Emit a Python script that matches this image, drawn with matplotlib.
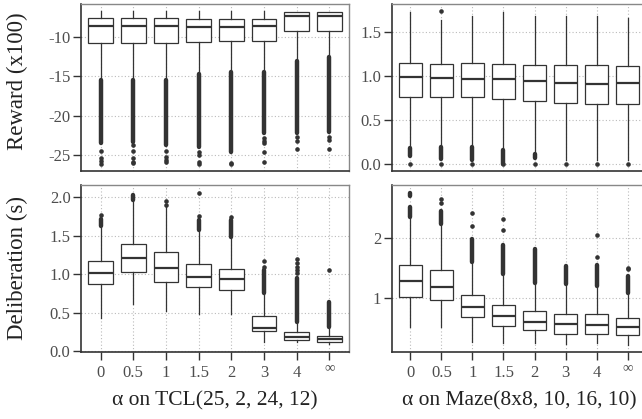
import matplotlib
matplotlib.use('Agg')
import matplotlib.pyplot as plt

plt.rcParams['font.family'] = ['Liberation Serif', 'DejaVu Serif']
plt.rcParams['axes.unicode_minus'] = False

alphas = ['0', '0.5', '1', '1.5', '2', '3', '4', '∞']

# TCL(25, 2, 24, 12) reward (x100)
tcl_rew_q1 = [-10.76, -10.76, -10.76, -10.63, -10.5, -10.5, -9.28, -9.19]
tcl_rew_med = [-8.65, -8.65, -8.65, -8.77, -8.77, -8.56, -7.38, -7.38]
tcl_rew_q3 = [-7.54, -7.54, -7.54, -7.67, -7.67, -7.67, -6.78, -6.78]
tcl_rew_lo = [-15.3, -15.3, -15.3, -14.6, -14.4, -14.4, -12.9, -12.5]
tcl_rew_hi = [-6.75, -6.75, -6.75, -6.75, -6.75, -6.75, -6.77, -6.77]
tcl_rew_runs = [[(-15.4, -23.5)], [(-15.4, -23.3)], [(-15.4, -23.7)], [(-14.7, -23.9)],
                [(-14.5, -24.6)], [(-14.5, -22.2)], [(-13.0, -22.2)], [(-12.6, -22.0)]]
tcl_rew_dots = [[-24.4, -25.3, -25.7, -26.1], [-23.7, -24.4, -25.3, -25.8, -26.0],
                [-24.4, -25.2, -25.6, -25.9], [-24.6, -25.0, -25.8, -26.1], [-25.95, -26.1],
                [-22.8, -23.2, -23.5, -24.6, -25.9], [-22.7, -23.2, -24.2], [-22.7, -23.1, -24.2]]

# Maze(8x8, 10, 16, 10) reward (x100)
maze_rew_q1 = [0.761, 0.758, 0.761, 0.739, 0.716, 0.69, 0.682, 0.682]
maze_rew_med = [0.982, 0.970, 0.962, 0.959, 0.94, 0.92, 0.909, 0.92]
maze_rew_q3 = [1.148, 1.136, 1.14, 1.136, 1.125, 1.118, 1.118, 1.11]
maze_rew_lo = [0.20, 0.21, 0.21, 0.17, 0.12, 0.04, 0.04, 0.04]
maze_rew_hi = [1.72, 1.63, 1.68, 1.72, 1.68, 1.68, 1.68, 1.66]
maze_rew_runs = [[(0.08, 0.18)], [(0.05, 0.19)], [(0.04, 0.19)], [(0.0, 0.15)],
                 [(0.06, 0.11)], [], [], []]
maze_rew_dots = [[0.0], [0.0, 1.73], [0.0], [0.0], [0.0], [0.0], [0.0], [0.0]]

# TCL deliberation (s)
tcl_del_q1 = [0.87, 1.026, 0.896, 0.83, 0.80, 0.263, 0.151, 0.125]
tcl_del_med = [1.013, 1.21, 1.086, 0.969, 0.939, 0.298, 0.182, 0.16]
tcl_del_q3 = [1.173, 1.40, 1.285, 1.134, 1.069, 0.458, 0.247, 0.199]
tcl_del_lo = [0.43, 0.61, 0.52, 0.49, 0.48, 0.117, 0.125, 0.09]
tcl_del_hi = [1.60, 1.95, 1.88, 1.575, 1.47, 0.753, 0.37, 0.30]
tcl_del_runs = [[(1.63, 1.72)], [(1.97, 2.03)], [], [(1.58, 1.70)], [(1.48, 1.70)],
                [(0.76, 1.05)], [(0.38, 0.95)], [(0.31, 0.64)]]
tcl_del_dots = [[1.77], [], [1.90, 1.95], [1.76, 2.06], [1.74], [1.10, 1.17],
                [1.02, 1.06, 1.10, 1.15, 1.20], [1.05]]

# Maze deliberation (s)
maze_del_q1 = [1.017, 0.967, 0.677, 0.538, 0.467, 0.40, 0.40, 0.383]
maze_del_med = [1.277, 1.193, 0.844, 0.694, 0.60, 0.567, 0.555, 0.517]
maze_del_q3 = [1.55, 1.477, 1.05, 0.883, 0.777, 0.738, 0.727, 0.667]
maze_del_lo = [0.51, 0.51, 0.27, 0.25, 0.25, 0.233, 0.25, 0.22]
maze_del_hi = [2.33, 2.22, 1.58, 1.39, 1.24, 1.233, 1.205, 1.067]
maze_del_runs = [[(2.35, 2.52), (2.70, 2.76)], [(2.23, 2.45)], [(1.60, 1.98)], [(1.40, 1.88)],
                 [(1.25, 1.82)], [(1.24, 1.53)], [(1.21, 1.55)], [(1.08, 1.37)]]
maze_del_dots = [[], [2.58, 2.66], [2.21, 2.42], [2.14, 2.32], [], [], [1.68, 2.05], [1.48, 1.50]]

DARK = '#333333'
TXT = '#4d4d4d'


def draw_panel(ax, q1, med, q3, lo, hi, runs, dots, ylim, yticks, ylabels, bottom):
    pos = list(range(len(alphas)))
    stats = []
    for i in pos:
        stats.append({'med': med[i], 'q1': q1[i], 'q3': q3[i],
                      'whislo': lo[i], 'whishi': hi[i], 'fliers': []})
    ax.bxp(stats, positions=pos, widths=0.75, showcaps=False, patch_artist=True,
           boxprops=dict(facecolor='white', edgecolor=DARK, linewidth=0.9),
           whiskerprops=dict(color=DARK, linewidth=0.9),
           medianprops=dict(color=DARK, linewidth=1.6), zorder=3)
    for i in pos:
        for a, b in runs[i]:
            ax.vlines(i, a, b, color=DARK, linewidth=3.2, capstyle='round', zorder=4)
        if dots[i]:
            ax.plot([i] * len(dots[i]), dots[i], 'o', color=DARK, markersize=3.3,
                    markeredgewidth=0, zorder=4)
    ax.set_xlim(-0.6, 7.6)
    ax.set_ylim(*ylim)
    ax.set_yticks(yticks)
    ax.set_yticklabels(ylabels)
    ax.set_xticks(pos)
    ax.grid(True, color='#bbbbbb', linestyle=(0, (1, 2)), linewidth=0.8)
    ax.set_axisbelow(True)
    for s in ['top', 'right']:
        ax.spines[s].set_color('#888888')
        ax.spines[s].set_linewidth(1.0)
    for s in ['left', 'bottom']:
        ax.spines[s].set_color(DARK)
        ax.spines[s].set_linewidth(1.2)
    ax.tick_params(axis='y', direction='out', length=5.5, width=1.0, color=DARK,
                   labelcolor=TXT, labelsize=12, pad=2)
    if bottom:
        ax.set_xticklabels(alphas)
        ax.tick_params(axis='x', direction='out', length=5.5, width=1.0, color=DARK,
                       labelcolor=TXT, labelsize=12, pad=3.5)
        inf_lab = ax.get_xticklabels()[-1]
        inf_lab.set_fontsize(10.5)
        inf_lab.set_y(0.02)
    else:
        ax.tick_params(axis='x', length=0, labelbottom=False)


fig = plt.figure(figsize=(6.42, 4.19), dpi=100)
ax1 = fig.add_axes([0.1262, 0.5919, 0.4174, 0.3986])
ax2 = fig.add_axes([0.6101, 0.5919, 0.3967, 0.3986])
ax3 = fig.add_axes([0.1262, 0.1599, 0.4174, 0.3993])
ax4 = fig.add_axes([0.6101, 0.1599, 0.3967, 0.3993])

draw_panel(ax1, tcl_rew_q1, tcl_rew_med, tcl_rew_q3, tcl_rew_lo, tcl_rew_hi,
           tcl_rew_runs, tcl_rew_dots, (-27.0, -5.81), [-25, -20, -15, -10],
           ['-25', '-20', '-15', '-10'], False)
draw_panel(ax2, maze_rew_q1, maze_rew_med, maze_rew_q3, maze_rew_lo, maze_rew_hi,
           maze_rew_runs, maze_rew_dots, (-0.085, 1.815), [0.0, 0.5, 1.0, 1.5],
           ['0.0', '0.5', '1.0', '1.5'], False)
draw_panel(ax3, tcl_del_q1, tcl_del_med, tcl_del_q3, tcl_del_lo, tcl_del_hi,
           tcl_del_runs, tcl_del_dots, (-0.01, 2.165), [0.0, 0.5, 1.0, 1.5, 2.0],
           ['0.0', '0.5', '1.0', '1.5', '2.0'], True)
draw_panel(ax4, maze_del_q1, maze_del_med, maze_del_q3, maze_del_lo, maze_del_hi,
           maze_del_runs, maze_del_dots, (0.1, 2.893), [1, 2], ['1', '2'], True)

lab = dict(fontsize=16.5, color='#222222')
fig.text(17 / 642, 1 - 81 / 419, 'Reward (x100)', rotation=90, ha='center', va='center', **lab)
fig.text(17 / 642, 1 - 268 / 419, 'Deliberation (s)', rotation=90, ha='center', va='center', **lab)
xlab = dict(fontsize=15.5, color='#222222', ha='center', va='center')
fig.text(215 / 642, 1 - 401 / 419, 'α on TCL(25, 2, 24, 12)', **xlab)
fig.text(519 / 642, 1 - 401 / 419, 'α on Maze(8x8, 10, 16, 10)', **xlab)

fig.savefig('out.png', dpi=100)
